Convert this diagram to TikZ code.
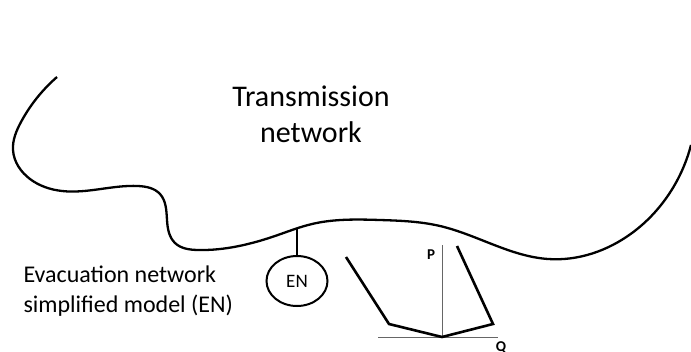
\documentclass[tikz,border=0pt]{standalone}
\usepackage{fontspec}
\setmainfont{Carlito}
\usetikzlibrary{shapes.geometric,hobby}
\tikzset{
  netline/.style={line width=2.3pt,line join=round,use Hobby shortcut},
  pqline/.style={line width=2.6pt,line join=miter},
  axisline/.style={line width=1pt,black!60},
}
\begin{document}
\begin{tikzpicture}[x=1pt,y=-1pt]
        \useasboundingbox (0,0) rectangle (691,351);
        \draw[netline] (57,77) .. (21,122) .. (13,150) .. (30,179) .. (62,191) .. (138,186) .. (160,194) .. (167,220) .. (175,243) .. (198,250) .. (275,236) .. (312,224) .. (380,220) .. (440,226) .. (548,259) .. (632,233) .. (667,197) .. (691,145);
        \node[font=\fontsize{30}{36}\selectfont,align=center] (tn) at (311,114) {Transmission\\network};
        \node[font=\fontsize{24}{30}\selectfont,align=left,anchor=west] (evac) at (20,291) {Evacuation network\\simplified model (EN)};
        \coordinate (tap) at (297,228);
        \node[draw,ellipse,line width=2pt,minimum width=61,minimum height=50,inner sep=0pt,font=\fontsize{19}{22}\selectfont] (en) at (297,281) {EN};
        \draw[line width=2pt] (tap) -- (en.north);
        \coordinate (o) at (442,337);
        \coordinate (pend) at (442,245);
        \coordinate (qstart) at (378,337);
        \coordinate (qend) at (498,337);
        \draw[axisline] (o) -- (pend);
        \draw[axisline] (qstart) -- (qend);
        \node[font=\bfseries\fontsize{15}{18}\selectfont] (plabel) at (431,255) {P};
        \node[font=\bfseries\fontsize{15}{18}\selectfont] (qlabel) at (501,348) {Q};
        \draw[pqline] (346,257) -- (389,324) -- (o) -- (493,324) -- (457,246);
\end{tikzpicture}
\end{document}
